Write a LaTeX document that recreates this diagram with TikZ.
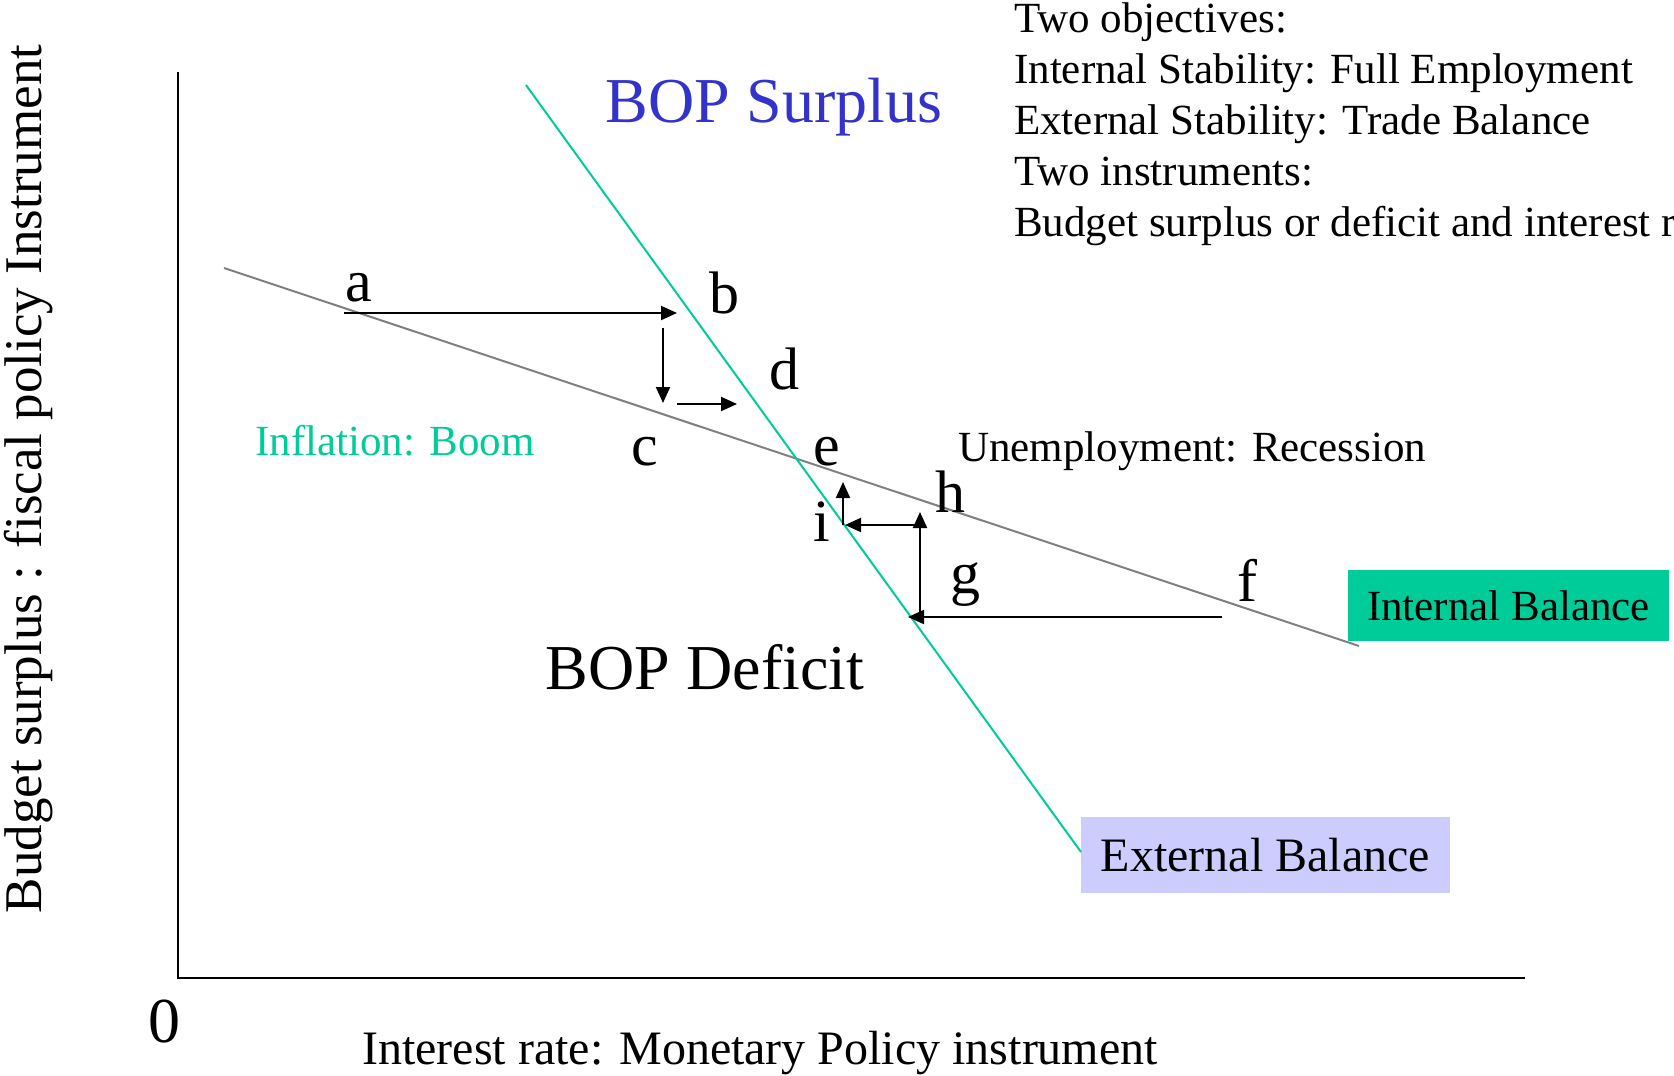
\documentclass[tikz,border=0pt]{standalone}
\usepackage{fontspec}
\setmainfont{Liberation Serif}
\usetikzlibrary{arrows.meta}
\definecolor{ibgreen}{HTML}{00CC99}
\definecolor{ebblue}{HTML}{CCCCFF}
\definecolor{bopblue}{HTML}{3333CC}
\definecolor{ibgray}{HTML}{808080}
\tikzset{
  txt/.style={inner sep=0pt,font=\fontsize{43}{51}\selectfont},
  letter/.style={inner sep=0pt,anchor=base,font=\fontsize{60}{70}\selectfont},
  big/.style={inner sep=0pt,font=\fontsize{64}{76}\selectfont},
  move/.style={line width=2pt,-{Triangle[length=16pt,width=14pt]}},
  axisline/.style={line width=2pt},
}
\begin{document}
\begin{tikzpicture}[x=1pt,y=-1pt]
\path[use as bounding box] (0,0) rectangle (1674,1076);
\clip (0,0) rectangle (1674,1076);
% axes
\coordinate (ytop) at (178,72);
\coordinate (orig) at (178,978);
\coordinate (xend) at (1525,978);
\draw[axisline] (ytop) -- (orig) -- (xend);
% boxes
\node[fill=ibgreen,minimum width=321pt,minimum height=71pt,inner sep=0pt,
      font=\fontsize{43}{51}\selectfont] (ibbox) at (1508.5,605.5) {Internal Balance};
\node[fill=ebblue,minimum width=369pt,minimum height=76pt,inner sep=0pt,
      font=\fontsize{48}{56}\selectfont] (ebbox) at (1265.5,855) {External Balance};
% curves
\coordinate (ibstart) at (224,268);
\coordinate (ibend) at (1359,646);
\draw[ibgray,line width=2pt] (ibstart) -- (ibend);
\coordinate (ebstart) at (526,85);
\coordinate (ebend) at (1081,852);
\draw[ibgreen,line width=2pt] (ebstart) -- (ebend);
% arrows
\coordinate (a1) at (344,313); \coordinate (a2) at (677,313);
\coordinate (b1) at (663,328); \coordinate (b2) at (663,403);
\coordinate (c1) at (677,404); \coordinate (c2) at (737,404);
\coordinate (g1) at (1222,617); \coordinate (g2) at (908,617);
\coordinate (h1) at (920,617); \coordinate (h2) at (920,512);
\coordinate (i1) at (920,525); \coordinate (i2) at (845,525);
\coordinate (j1) at (843,525); \coordinate (j2) at (843,482);
\draw[move] (a1) -- (a2);
\draw[move] (b1) -- (b2);
\draw[move] (c1) -- (c2);
\draw[move] (g1) -- (g2);
\draw[move] (h1) -- (h2);
\draw[move] (i1) -- (i2);
\draw[move] (j1) -- (j2);
% letters
\node[letter] (la) at (359,301) {a};
\node[letter] (lb) at (724,313) {b};
\node[letter] (ld) at (784,389) {d};
\node[letter] (lc) at (645,465) {c};
\node[letter] (le) at (827,465) {e};
\node[letter] (lh) at (950,512) {h};
\node[letter] (li) at (822,541) {i};
\node[letter] (lg) at (965,593) {g};
\node[letter] (lf) at (1247,601) {f};
% region labels
\node[big,text=bopblue] (surplus) at (774,107) {BOP Surplus};
\node[big] (deficit) at (705,667) {BOP Deficit};
\node[txt,text=ibgreen,anchor=base] (infl) at (395,455) {Inflation: Boom};
\node[txt,anchor=base west] (unemp) at (958,461) {Unemployment: Recession};
% top-right text
\node[txt,anchor=base west] (t1) at (1014,32) {Two objectives:};
\node[txt,anchor=base west] (t2) at (1014,83) {Internal Stability: Full Employment};
\node[txt,anchor=base west] (t3) at (1014,134) {External Stability: Trade Balance};
\node[txt,anchor=base west] (t4) at (1014,185) {Two instruments:};
\node[txt,anchor=base west] (t5) at (1014,236) {Budget surplus or deficit and interest rate};
% axis labels
\node[big] (zero) at (164,1022) {0};
\node[inner sep=0pt,font=\fontsize{48}{56}\selectfont,anchor=base] (xlabel) at (760,1064) {Interest rate: Monetary Policy instrument};
\node[inner sep=0pt,font=\fontsize{53}{62}\selectfont,rotate=90] (ylabel) at (29,479) {Budget surplus : fiscal policy Instrument};
\end{tikzpicture}
\end{document}
